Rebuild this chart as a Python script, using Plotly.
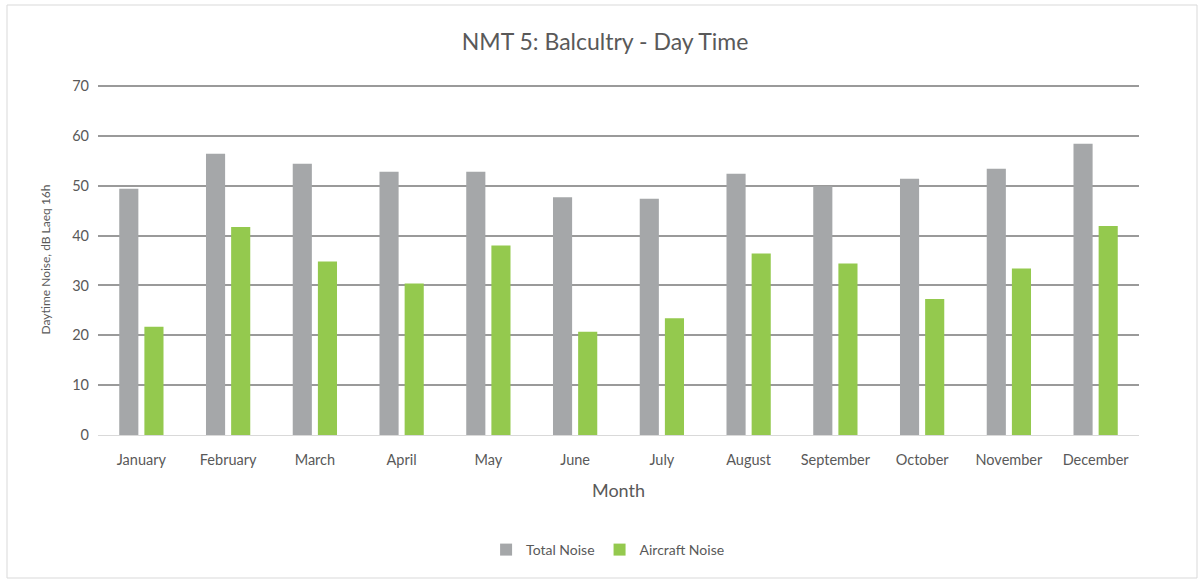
import plotly.graph_objects as go

months = ["January", "February", "March", "April", "May", "June", "July",
          "August", "September", "October", "November", "December"]
total_noise = [49.4, 56.4, 54.4, 52.8, 52.8, 47.7, 47.4, 52.4, 49.9, 51.4, 53.4, 58.4]
aircraft_noise = [21.7, 41.7, 34.8, 30.4, 38.0, 20.7, 23.4, 36.4, 34.4, 27.3, 33.4, 41.9]

FONT = "Lato"
TXT = "#595959"

fig = go.Figure()
fig.add_trace(go.Bar(x=months, y=total_noise, name="Total Noise",
                     marker=dict(color="#A5A7A9", line=dict(width=0))))
fig.add_trace(go.Bar(x=months, y=aircraft_noise, name="Aircraft Noise",
                     marker=dict(color="#94C94E", line=dict(width=0))))

W, H = 1203, 581
L, R, T, B = 98, 64, 84, 146
pw, ph = W - L - R, H - T - B

def px(x):
    return (x - L) / pw

def py(y):
    return (H - B - y) / ph

fig.update_layout(
    width=W, height=H,
    margin=dict(l=L, r=R, t=T, b=B),
    paper_bgcolor="white", plot_bgcolor="white",
    font=dict(family=FONT, color=TXT, size=14),
    title=dict(text="NMT 5: Balcultry - Day Time", x=0.503, xanchor="center",
               y=1 - 42 / H, yanchor="middle", font=dict(size=23, color=TXT)),
    barmode="group", bargap=0.42, bargroupgap=0.24,
    showlegend=True,
    legend=dict(orientation="h", x=0.49, xanchor="center", y=py(550), yanchor="middle",
                font=dict(size=14, color=TXT), itemwidth=30, traceorder="normal"),
    xaxis=dict(title=dict(text="Month", font=dict(size=18, color=TXT), standoff=16),
               tickfont=dict(size=14.5, color=TXT), showgrid=False, ticklabelstandoff=12,
               showline=True, linecolor="#D9D9D9", linewidth=1, ticks=""),
    yaxis=dict(title=dict(text="Daytime Noise, dB Laeq 16h", font=dict(size=12, color=TXT), standoff=18),
               range=[0, 70.4], tickvals=[0, 10, 20, 30, 40, 50, 60, 70],
               tickfont=dict(size=14.5, color=TXT), ticklabelstandoff=8,
               showgrid=True, gridcolor="#9A9A9A", gridwidth=1.5,
               zeroline=False, showline=False, ticks="", ticklen=0),
    shapes=[dict(type="rect", xref="paper", yref="paper",
                 x0=px(7), x1=px(1197), y0=py(578), y1=py(5),
                 line=dict(color="#D9D9D9", width=1), fillcolor="rgba(0,0,0,0)", layer="below")],
)

fig.write_html("out.html", config={"displayModeBar": False},
               post_script="document.body.style.margin='0';document.body.style.overflow='hidden';")
